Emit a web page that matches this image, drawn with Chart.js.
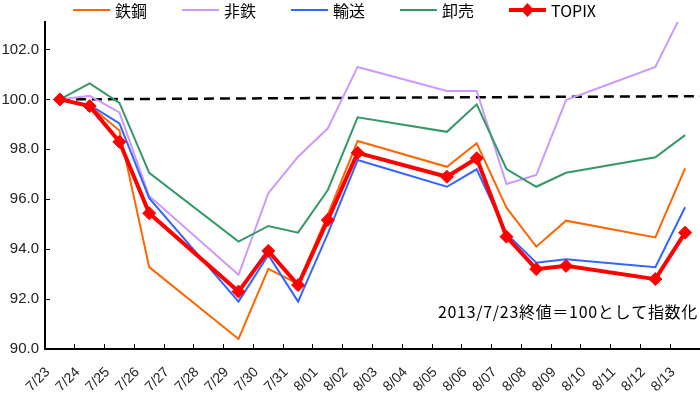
<!DOCTYPE html>
<html>
<head>
<meta charset="utf-8">
<script src="https://cdn.jsdelivr.net/npm/chart.js@4"></script>
<style>
  body { margin: 0; background: #fff; }
  #wrap { position: relative; width: 700px; height: 393px; }
  #legend {
    position: absolute; top: 0; left: 73px; height: 20px;
    display: flex; align-items: center;
    font: 16px "Noto Sans CJK JP", sans-serif; color: #000;
  }
  .item { display: flex; align-items: center; width: 109px; }
  .item:last-child { width: auto; }
  .item span { margin-left: 5px; }
  .item svg { display: block; }
</style>
</head>
<body>
<div id="wrap">
  <canvas id="chart" width="700" height="393"></canvas>
  <div id="legend"></div>
</div>
<script>
// 日付（土日も軸に並ぶ、休場日は null）
const dates = ["7/23", "7/24", "7/25", "7/26", "7/27", "7/28", "7/29", "7/30", "7/31", "8/01", "8/02",
  "8/03", "8/04", "8/05", "8/06", "8/07", "8/08", "8/09", "8/10", "8/11", "8/12", "8/13"];

const tekko   = [100.0, 99.75, 98.75, 93.28, null, null, 90.40, 93.21, 92.61, 95.38, 98.33, null, null, 97.30, 98.24, 95.66, 94.10, 95.14, null, null, 94.47, 97.24];
const hitetsu = [100.0, 100.14, 99.48, 96.13, null, null, 92.97, 96.24, 97.70, 98.84, 101.30, null, null, 100.34, 100.34, 96.61, 96.97, 99.97, null, null, 101.30, 103.70];
const yuso    = [100.0, 99.78, 99.04, 96.04, null, null, 91.90, 93.77, 91.90, 94.62, 97.57, null, null, 96.50, 97.20, 94.62, 93.46, 93.60, null, null, 93.28, 95.68];
const oroshi  = [100.0, 100.64, 99.86, 97.06, null, null, 94.30, 94.93, 94.66, 96.37, 99.28, null, null, 98.70, 99.80, 97.21, 96.50, 97.06, null, null, 97.68, 98.57];
const topix   = [100.0, 99.73, 98.30, 95.44, null, null, 92.30, 93.93, 92.56, 95.17, 97.86, null, null, 96.90, 97.64, 94.50, 93.20, 93.33, null, null, 92.80, 94.66];

// 100の基準線（左端の点 → 右端）
const baseLine = [100.0, 100.13];

const yTicks = [90, 92, 94, 96, 98, 100, 102];
const note = "2013/7/23終値＝100として指数化";

const notePlugin = {
  id: "note",
  afterDatasetsDraw(chart) {
    const { ctx, chartArea } = chart;
    ctx.save();
    ctx.font = '16px "Noto Sans CJK JP"';
    ctx.letterSpacing = "0.7px";
    ctx.fillStyle = "#000";
    ctx.textAlign = "right";
    ctx.textBaseline = "middle";
    ctx.fillText(note, chartArea.right - 2, chartArea.bottom - 37);
    ctx.restore();
  }
};

function BuildLegend(chart) {
  const box = document.getElementById("legend");
  chart.data.datasets.forEach((ds) => {
    if (!ds.label) return;
    let svg = `<svg width="37" height="16"><line x1="0" y1="8" x2="37" y2="8" stroke="${ds.borderColor}" stroke-width="${ds.borderWidth}"/>`;
    if (ds.pointRadius) {
      svg += `<polygon points="18.5,1 25,8 18.5,15 12,8" fill="${ds.borderColor}"/>`;
    }
    svg += `</svg>`;
    const item = document.createElement("div");
    item.className = "item";
    item.innerHTML = `${svg}<span>${ds.label}</span>`;
    box.appendChild(item);
  });
}

const ctx = document.getElementById("chart").getContext("2d");

const myChart = new Chart(ctx, {
  type: "line",
  data: {
    labels: dates,
    datasets: [
      { label: "鉄鋼", data: tekko, borderColor: "#FF6600", borderWidth: 2, pointRadius: 0, order: 5 },
      { label: "非鉄", data: hitetsu, borderColor: "#CC99FF", borderWidth: 2, pointRadius: 0, order: 4 },
      { label: "輸送", data: yuso, borderColor: "#3366FF", borderWidth: 2, pointRadius: 0, order: 3 },
      { label: "卸売", data: oroshi, borderColor: "#339966", borderWidth: 2, pointRadius: 0, order: 2 },
      {
        label: "TOPIX", data: topix, borderColor: "#FF0000", backgroundColor: "#FF0000",
        borderWidth: 4, pointStyle: "rectRot", pointRadius: 6.5, pointBorderWidth: 1, order: 1
      },
      {
        data: [{ x: 0, y: baseLine[0] }, { x: dates.length - 0.5, y: baseLine[1] }],
        xAxisID: "xb", borderColor: "#000", borderWidth: 2.5, borderDash: [10, 6],
        pointRadius: 0, order: 9
      }
    ]
  },
  options: {
    responsive: false,
    animation: false,
    spanGaps: true,
    layout: { autoPadding: false, padding: { top: 22, right: 0, left: 0, bottom: 0 } },
    plugins: { legend: { display: false }, tooltip: { enabled: false } },
    scales: {
      x: {
        offset: true,
        grid: { display: true, offset: true, drawOnChartArea: false, drawTicks: true, tickLength: -5, color: "#000" },
        border: { display: true, color: "#000", width: 2 },
        ticks: {
          minRotation: 45, maxRotation: 45, autoSkip: false, labelOffset: -12, padding: 20,
          color: "#222", font: { size: 14, family: "Liberation Sans" }
        },
        afterFit(scale) {
          scale.height = 44;
          scale.paddingLeft = 0;
          scale.paddingRight = 0;
        }
      },
      xb: { type: "linear", display: false, min: -0.5, max: dates.length - 0.5 },
      y: {
        min: 90,
        max: 103.1,
        afterBuildTicks(scale) { scale.ticks = yTicks.map((v) => ({ value: v })); },
        ticks: {
          padding: 11, color: "#222", font: { size: 15, family: "Liberation Sans" },
          callback: (v) => v.toFixed(1)
        },
        grid: { display: true, drawOnChartArea: false, drawTicks: true, tickLength: -5, color: "#000" },
        border: { display: true, color: "#000", width: 2 },
        afterFit(scale) { scale.width = 45; }
      }
    }
  },
  plugins: [notePlugin]
});

BuildLegend(myChart);
</script>
</body>
</html>
